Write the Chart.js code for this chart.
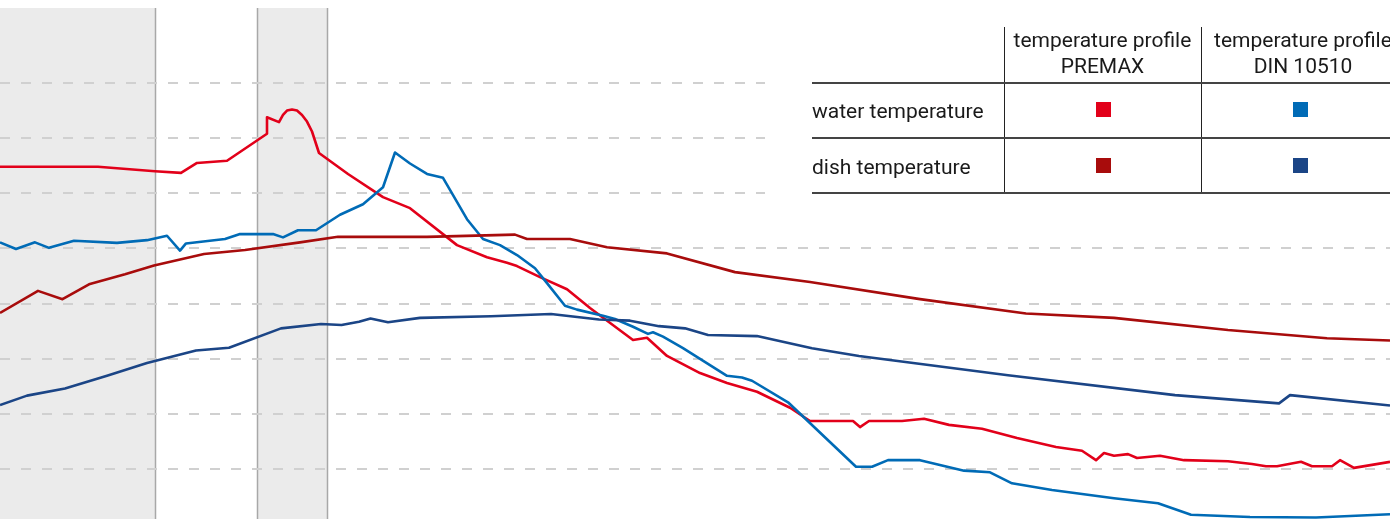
<!DOCTYPE html>
<html>
<head>
<meta charset="utf-8">
<script src="https://cdn.jsdelivr.net/npm/chart.js@4/dist/chart.umd.min.js"></script>
<style>
    body { margin: 0; background: #fff; }
    #wrap { position: relative; width: 1390px; height: 519px; overflow: hidden; font-family: Roboto, "Liberation Sans", sans-serif; font-size: 21px; color: #1a1a1a; }
    #chart { position: absolute; left: 0; top: 0; }
    .hline { position: absolute; left: 812px; width: 578px; height: 2px; background: #444; }
    .vline { position: absolute; top: 27px; width: 1px; height: 166px; background: #222; }
    .head { position: absolute; top: 27px; text-align: center; line-height: 26px; white-space: nowrap; }
    .row { position: absolute; left: 812px; line-height: 26px; white-space: nowrap; }
    .swatch { position: absolute; width: 15px; height: 15px; }
</style>
</head>
<body>
<div id="wrap">
    <canvas id="chart" width="1390" height="519"></canvas>

    <div class="vline" style="left:1004px"></div>
    <div class="vline" style="left:1201px"></div>
    <div class="hline" style="top:82px"></div>
    <div class="hline" style="top:137px"></div>
    <div class="hline" style="top:192px"></div>

    <div class="head" style="left:1004px; width:197px">temperature profile<br>PREMAX</div>
    <div class="head" style="left:1201px; width:204px">temperature profile<br>DIN 10510</div>
    <div class="row" style="top:98px">water temperature</div>
    <div class="row" style="top:154px">dish temperature</div>

    <div class="swatch" style="left:1096px; top:102px; background:#e2001a"></div>
    <div class="swatch" style="left:1293px; top:102px; background:#006bb6"></div>
    <div class="swatch" style="left:1096px; top:158px; background:#a80c0c"></div>
    <div class="swatch" style="left:1293px; top:158px; background:#1b4586"></div>
</div>

<script>
// Temperature curves (time in arbitrary units, temperature in °C)
const waterPremaxTime = [0, 9.8, 15.5, 18.1, 19.7, 22.7, 26.7, 26.7, 27.9, 28.3, 28.7, 29.2, 29.7, 30.2, 30.7, 31.2, 31.9, 34.8, 38.3, 41.0, 45.7, 48.7, 50.7, 51.7, 54.0, 56.7, 59.0, 63.3, 64.7, 66.7, 70.0, 72.7, 75.7, 79.0, 81.0, 85.3, 86.0, 86.9, 90.2, 92.4, 94.9, 98.2, 101.7, 105.6, 108.2, 109.6, 110.4, 111.4, 112.8, 113.7, 116.0, 118.4, 122.8, 125.2, 126.6, 127.7, 130.1, 131.2, 133.2, 134.0, 135.4, 139.0];
const waterPremaxTemp = [74.8, 74.8, 74.0, 73.7, 75.5, 75.9, 80.8, 83.8, 82.9, 84.2, 85.0, 85.2, 85.0, 84.2, 83.0, 81.2, 77.3, 73.5, 69.3, 67.3, 60.6, 58.4, 57.4, 56.8, 54.8, 52.6, 49.2, 43.4, 43.8, 40.5, 37.4, 35.6, 34.0, 31.1, 28.7, 28.7, 27.6, 28.7, 28.7, 29.1, 28.0, 27.3, 25.6, 24.0, 23.3, 21.6, 22.9, 22.4, 22.7, 22.0, 22.4, 21.6, 21.4, 20.9, 20.5, 20.5, 21.3, 20.5, 20.5, 21.6, 20.2, 21.3];

const waterDinTime = [0, 1.6, 3.5, 4.9, 7.4, 11.7, 14.7, 16.7, 18.0, 18.6, 22.5, 24.0, 27.3, 28.3, 29.8, 31.6, 34.0, 36.3, 38.3, 39.5, 41.0, 42.7, 44.3, 46.7, 48.3, 50.0, 51.7, 53.5, 54.7, 56.5, 57.7, 60.3, 61.5, 63.3, 64.8, 65.3, 66.3, 68.3, 72.7, 74.2, 75.2, 78.8, 85.6, 87.2, 88.8, 92.0, 96.4, 99.0, 101.2, 105.2, 111.4, 115.8, 119.1, 125.0, 131.6, 139.0];
const waterDinTemp = [61.1, 59.9, 61.1, 60.1, 61.4, 61.0, 61.5, 62.3, 59.6, 60.9, 61.7, 62.6, 62.6, 62.0, 63.3, 63.3, 66.1, 68.0, 71.1, 77.4, 75.4, 73.5, 72.8, 65.3, 61.7, 60.6, 58.8, 56.4, 53.7, 49.6, 48.9, 47.8, 47.2, 45.8, 44.5, 44.8, 44.0, 41.9, 36.9, 36.6, 36.0, 32.1, 20.4, 20.4, 21.6, 21.6, 19.7, 19.4, 17.4, 16.2, 14.7, 13.8, 11.7, 11.3, 11.2, 11.8];

const dishPremaxTime = [0, 3.8, 6.25, 8.9, 12.5, 15.4, 20.4, 24.5, 30.0, 33.8, 42.7, 51.5, 52.7, 57.0, 60.7, 66.7, 73.5, 81.0, 92.0, 102.6, 111.4, 122.8, 132.7, 139.0];
const dishPremaxTemp = [48.3, 52.3, 50.8, 53.5, 55.3, 56.9, 59.0, 59.7, 61.1, 62.1, 62.1, 62.5, 61.7, 61.7, 60.2, 59.1, 55.7, 53.9, 50.8, 48.2, 47.4, 45.2, 43.7, 43.3];

const dishDinTime = [0, 2.7, 6.5, 10.7, 14.7, 19.6, 22.9, 28.1, 32.1, 34.15, 35.9, 37.05, 38.8, 42.0, 49.1, 55.1, 59.9, 63.0, 65.9, 68.5, 70.8, 75.7, 81.2, 85.9, 100.8, 117.5, 127.9, 129.0, 139.0];
const dishDinTemp = [31.6, 33.3, 34.6, 36.9, 39.2, 41.5, 42.0, 45.5, 46.3, 46.1, 46.7, 47.3, 46.6, 47.4, 47.7, 48.1, 47.1, 46.9, 45.9, 45.5, 44.3, 44.1, 41.9, 40.5, 37.0, 33.4, 31.9, 33.4, 31.5];

// Grey phases and dashed gridlines
const phaseStart = [0, 25.7];
const phaseEnd = [15.5, 32.7];
const phaseTop = 103.6;
const gridValues = [20, 30, 40, 50, 60, 70, 80, 90];
const gridShortFrom = 70;    // lines at/above this stop before the legend table
const gridShortEnd = 76.5;

function toPoints(times, temps) {
    return times.map((t, i) => ({ x: t, y: temps[i] }));
}

const backdrop = {
    id: 'backdrop',
    beforeDatasetsDraw(chart) {
        const { ctx, chartArea, scales: { x, y } } = chart;
        ctx.save();
        const top = y.getPixelForValue(phaseTop);

        ctx.fillStyle = '#ebebeb';
        phaseStart.forEach((s, i) => {
            const x0 = x.getPixelForValue(s);
            const x1 = x.getPixelForValue(phaseEnd[i]);
            ctx.fillRect(x0, top, x1 - x0, chartArea.bottom - top);
        });

        ctx.strokeStyle = '#a8a8a8';
        ctx.lineWidth = 1.5;
        phaseStart.concat(phaseEnd).forEach(v => {
            if (v <= x.min) return;
            const px = Math.round(x.getPixelForValue(v)) + 0.5;
            ctx.beginPath();
            ctx.moveTo(px, top);
            ctx.lineTo(px, chartArea.bottom);
            ctx.stroke();
        });

        ctx.strokeStyle = '#d0d0d0';
        ctx.lineWidth = 2;
        ctx.setLineDash([10, 11]);
        gridValues.forEach(v => {
            const py = Math.round(y.getPixelForValue(v));
            const end = v >= gridShortFrom ? x.getPixelForValue(gridShortEnd) : chartArea.right;
            ctx.beginPath();
            ctx.moveTo(chartArea.left, py);
            ctx.lineTo(end, py);
            ctx.stroke();
        });
        ctx.restore();
    }
};

new Chart(document.getElementById('chart'), {
    type: 'line',
    data: {
        datasets: [
            { label: 'dish temperature DIN 10510', data: toPoints(dishDinTime, dishDinTemp), borderColor: '#1b4586' },
            { label: 'dish temperature PREMAX', data: toPoints(dishPremaxTime, dishPremaxTemp), borderColor: '#a80c0c' },
            { label: 'water temperature DIN 10510', data: toPoints(waterDinTime, waterDinTemp), borderColor: '#006bb6' },
            { label: 'water temperature PREMAX', data: toPoints(waterPremaxTime, waterPremaxTemp), borderColor: '#e2001a' },
        ]
    },
    plugins: [backdrop],
    options: {
        responsive: false,
        animation: false,
        layout: { padding: 0 },
        elements: {
            point: { radius: 0 },
            line: { borderWidth: 2.6, tension: 0, fill: false, borderJoinStyle: 'round' }
        },
        scales: {
            x: { type: 'linear', min: 0, max: 139, display: false },
            y: { min: 10.93, max: 105.05, display: false }
        },
        plugins: {
            legend: { display: false },
            tooltip: { enabled: false }
        }
    }
});
</script>
</body>
</html>
